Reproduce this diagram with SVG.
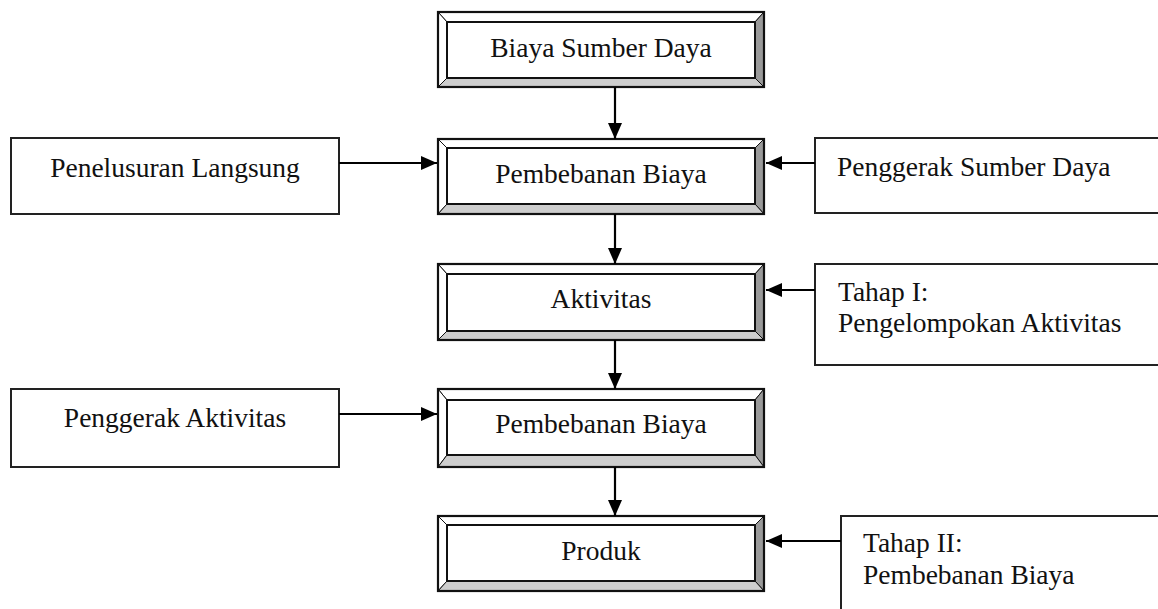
<svg xmlns="http://www.w3.org/2000/svg" width="1158" height="609" viewBox="0 0 1158 609">
<style>
  .lbl { font-family: "Liberation Serif", "Times New Roman", serif; font-size: 27.5px; fill: #111; }
  .plain { fill: #fff; stroke: #222; stroke-width: 2; }
  .outer { fill: none; stroke: #111; stroke-width: 2.2; }
  .inner { fill: #fff; stroke: #111; stroke-width: 2; }
  .bl { fill: #fff; stroke: #111; stroke-width: 1; }
  .br { fill: #9a9a9a; stroke: #111; stroke-width: 1; }
  .bb { fill: #cdcdcd; stroke: #111; stroke-width: 1; }
  .conn { stroke: #000; stroke-width: 2.2; fill: none; marker-end: url(#ah); }
</style>
<defs>
  <marker id="ah" viewBox="0 0 16 14" refX="16" refY="7" markerWidth="16" markerHeight="14" markerUnits="userSpaceOnUse" orient="auto">
    <path d="M0,0 L16,7 L0,14 Z" fill="#000"/>
  </marker>
</defs>
<rect width="1158" height="609" fill="#fff"/>

<g id="biaya-sumber-daya">
  <polygon class="bl" points="438,12 764,12 755,22 447,22"/>
  <polygon class="bl" points="438,12 447,22 447,78 438,87"/>
  <polygon class="br" points="764,12 764,87 755,78 755,22"/>
  <polygon class="bb" points="438,87 764,87 755,78 447,78"/>
  <rect class="inner" x="447" y="22" width="308" height="56"/>
  <rect class="outer" x="438" y="12" width="326" height="75"/>
  <text class="lbl" x="601" y="57" text-anchor="middle">Biaya Sumber Daya</text>
</g>

<g id="pembebanan-biaya-1">
  <polygon class="bl" points="438,139 764,139 755,148 447,148"/>
  <polygon class="bl" points="438,139 447,148 447,204 438,214"/>
  <polygon class="br" points="764,139 764,214 755,204 755,148"/>
  <polygon class="bb" points="438,214 764,214 755,204 447,204"/>
  <rect class="inner" x="447" y="148" width="308" height="56"/>
  <rect class="outer" x="438" y="139" width="326" height="75"/>
  <text class="lbl" x="601" y="183" text-anchor="middle">Pembebanan Biaya</text>
</g>

<g id="aktivitas">
  <polygon class="bl" points="438,264 764,264 755,274 447,274"/>
  <polygon class="bl" points="438,264 447,274 447,331 438,340"/>
  <polygon class="br" points="764,264 764,340 755,331 755,274"/>
  <polygon class="bb" points="438,340 764,340 755,331 447,331"/>
  <rect class="inner" x="447" y="274" width="308" height="57"/>
  <rect class="outer" x="438" y="264" width="326" height="76"/>
  <text class="lbl" x="601" y="308" text-anchor="middle">Aktivitas</text>
</g>

<g id="pembebanan-biaya-2">
  <polygon class="bl" points="438,389 764,389 755,400 447,400"/>
  <polygon class="bl" points="438,389 447,400 447,455 438,467"/>
  <polygon class="br" points="764,389 764,467 755,455 755,400"/>
  <polygon class="bb" points="438,467 764,467 755,455 447,455"/>
  <rect class="inner" x="447" y="400" width="308" height="55"/>
  <rect class="outer" x="438" y="389" width="326" height="78"/>
  <text class="lbl" x="601" y="433" text-anchor="middle">Pembebanan Biaya</text>
</g>

<g id="produk">
  <polygon class="bl" points="438,516 764,516 755,525 447,525"/>
  <polygon class="bl" points="438,516 447,525 447,581 438,591"/>
  <polygon class="br" points="764,516 764,591 755,581 755,525"/>
  <polygon class="bb" points="438,591 764,591 755,581 447,581"/>
  <rect class="inner" x="447" y="525" width="308" height="56"/>
  <rect class="outer" x="438" y="516" width="326" height="75"/>
  <text class="lbl" x="601" y="560" text-anchor="middle">Produk</text>
</g>

<g id="penelusuran-langsung">
  <rect class="plain" x="11" y="138" width="328" height="76"/>
  <text class="lbl" x="175" y="177" text-anchor="middle">Penelusuran Langsung</text>
</g>

<g id="penggerak-sumber-daya">
  <rect class="plain" x="815" y="138" width="360" height="75"/>
  <text class="lbl" x="837" y="176">Penggerak Sumber Daya</text>
</g>

<g id="tahap-1">
  <rect class="plain" x="815" y="264" width="360" height="101"/>
  <text class="lbl" x="838" y="301">Tahap I:</text>
  <text class="lbl" x="838" y="332">Pengelompokan Aktivitas</text>
</g>

<g id="penggerak-aktivitas">
  <rect class="plain" x="11" y="389" width="328" height="78"/>
  <text class="lbl" x="175" y="427" text-anchor="middle">Penggerak Aktivitas</text>
</g>

<g id="tahap-2">
  <rect class="plain" x="841" y="516" width="340" height="120"/>
  <text class="lbl" x="863" y="552">Tahap II:</text>
  <text class="lbl" x="863" y="584">Pembebanan Biaya</text>
</g>

<g id="connectors">
  <line class="conn" x1="615" y1="87" x2="615" y2="139"/>
  <line class="conn" x1="615" y1="214" x2="615" y2="264"/>
  <line class="conn" x1="615" y1="340" x2="615" y2="389"/>
  <line class="conn" x1="615" y1="467" x2="615" y2="516"/>
  <line class="conn" x1="339" y1="163" x2="437" y2="163"/>
  <line class="conn" x1="815" y1="163" x2="766" y2="163"/>
  <line class="conn" x1="815" y1="290" x2="766" y2="290"/>
  <line class="conn" x1="339" y1="414" x2="437" y2="414"/>
  <line class="conn" x1="841" y1="541" x2="766" y2="541"/>
</g>
</svg>
